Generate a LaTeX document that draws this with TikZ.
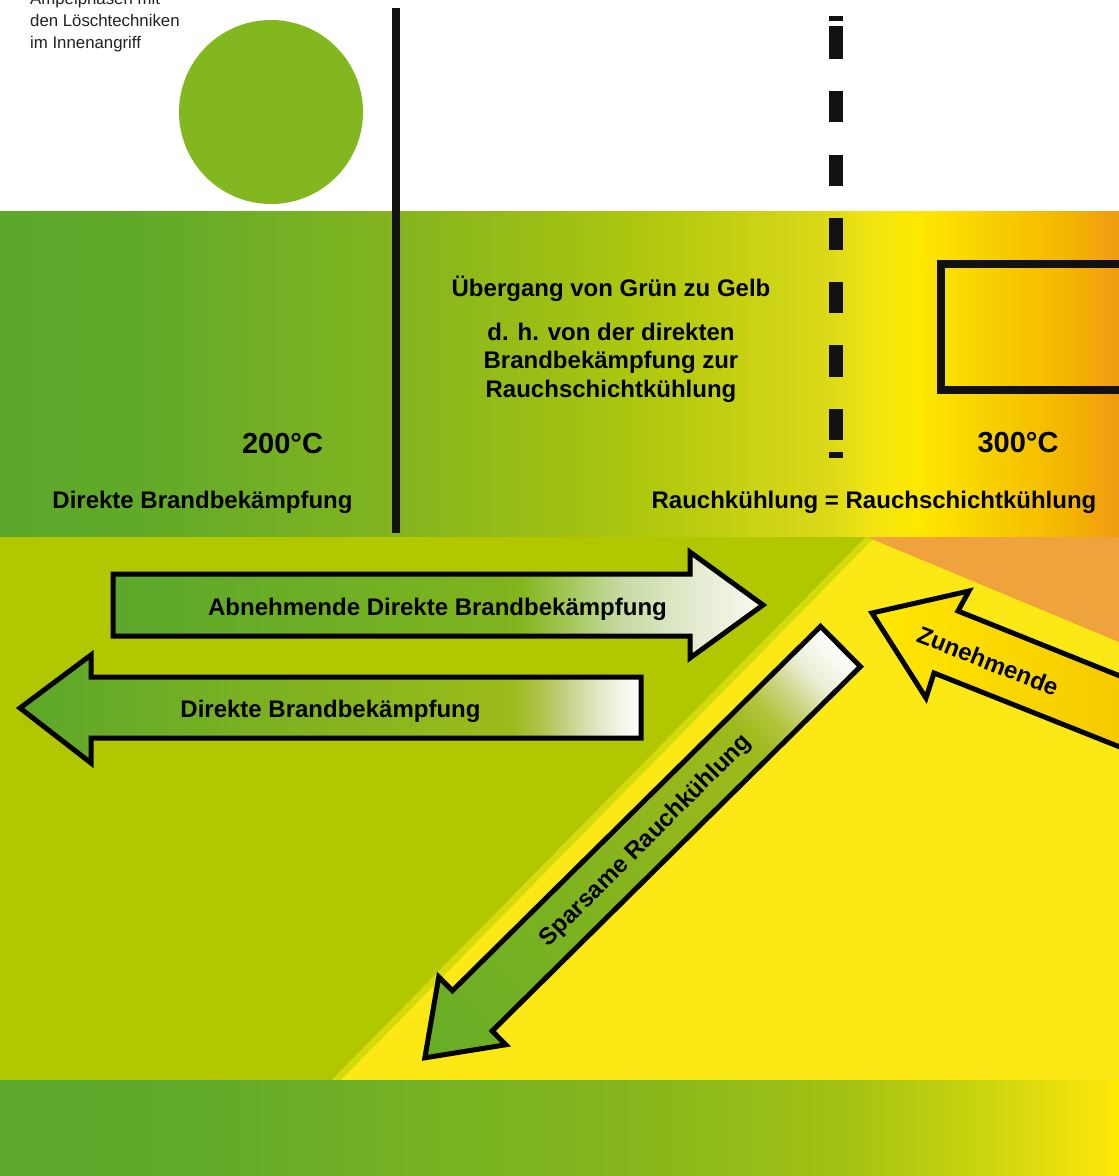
\documentclass[tikz,border=0pt]{standalone}
\usepackage{fontspec}
\setmainfont{Liberation Sans}
\usetikzlibrary{calc}

\definecolor{lowgreen}{HTML}{B1C800}
\definecolor{lowyellow}{HTML}{FCE814}
\definecolor{orangetri}{HTML}{F0A23C}
\definecolor{circgreen}{HTML}{82B71F}
\definecolor{inkblack}{HTML}{111111}
\definecolor{midstrip}{HTML}{D4DB0C}
\definecolor{greytext}{HTML}{222222}
\definecolor{zunA}{HTML}{FFE800}
\definecolor{zunB}{HTML}{F6C800}

% top band
\definecolor{tbA}{HTML}{5BA82C}\definecolor{tbB}{HTML}{62AA29}
\definecolor{tbC}{HTML}{84B51F}\definecolor{tbD}{HTML}{9CBF15}
\definecolor{tbE}{HTML}{B0C80E}\definecolor{tbF}{HTML}{CBD314}
\definecolor{tbG}{HTML}{DCD918}\definecolor{tbH}{HTML}{F2E510}
\definecolor{tbI}{HTML}{FDE800}\definecolor{tbJ}{HTML}{F8D000}
\definecolor{tbK}{HTML}{F4B800}\definecolor{tbL}{HTML}{F09A10}
\pgfdeclarehorizontalshading{topband}{100bp}{color(0bp)=(tbA); color(25bp)=(tbA);
 color(31.7bp)=(tbB); color(42.9bp)=(tbC); color(49.6bp)=(tbD); color(54bp)=(tbE);
 color(59bp)=(tbF); color(62.1bp)=(tbG); color(63.9bp)=(tbH); color(66.1bp)=(tbI);
 color(69.2bp)=(tbJ); color(72.4bp)=(tbK); color(75bp)=(tbL); color(100bp)=(tbL)}

% bottom band
\definecolor{bbA}{HTML}{5DA82D}\definecolor{bbB}{HTML}{62AA2A}
\definecolor{bbC}{HTML}{78B222}\definecolor{bbD}{HTML}{87B71C}
\definecolor{bbE}{HTML}{A4C214}\definecolor{bbF}{HTML}{C4D20E}
\definecolor{bbG}{HTML}{E0DC10}\definecolor{bbH}{HTML}{F8E608}
\definecolor{bbI}{HTML}{FDE800}
\pgfdeclarehorizontalshading{bottomband}{100bp}{color(0bp)=(bbA); color(25bp)=(bbA);
 color(33.9bp)=(bbB); color(45.1bp)=(bbC); color(54bp)=(bbD); color(63bp)=(bbE);
 color(67.9bp)=(bbF); color(71.3bp)=(bbG); color(74.2bp)=(bbH); color(75bp)=(bbI);
 color(100bp)=(bbI)}

% arrow one
\definecolor{aoA}{HTML}{5CA82B}\definecolor{aoB}{HTML}{6CAE25}
\definecolor{aoC}{HTML}{82B51E}\definecolor{aoD}{HTML}{9FC44E}
\definecolor{aoE}{HTML}{C6DAA2}\definecolor{aoF}{HTML}{E2EACD}
\definecolor{aoG}{HTML}{F8FAF0}
\pgfdeclarehorizontalshading{arrowone}{100bp}{color(0bp)=(aoA); color(25bp)=(aoA);
 color(40.9bp)=(aoB); color(56.3bp)=(aoC); color(59.4bp)=(aoD); color(64bp)=(aoE);
 color(69.4bp)=(aoF); color(75bp)=(aoG); color(100bp)=(aoG)}

% arrow two
\definecolor{atA}{HTML}{5CA82B}\definecolor{atB}{HTML}{84B41E}
\definecolor{atC}{HTML}{9CBB1A}\definecolor{atD}{HTML}{AEC24A}
\definecolor{atE}{HTML}{C8D48E}\definecolor{atF}{HTML}{E4E9C8}
\definecolor{atG}{HTML}{F7F8EE}\definecolor{atH}{HTML}{FFFFFF}
\pgfdeclarehorizontalshading{arrowtwo}{100bp}{color(0bp)=(atA); color(25bp)=(atA);
 color(50bp)=(atB); color(64.5bp)=(atC); color(66.9bp)=(atD); color(69.3bp)=(atE);
 color(71.7bp)=(atF); color(73.7bp)=(atG); color(75bp)=(atH); color(100bp)=(atH)}

% diagonal arrow (local axis: tail at 0 -> tip at 585)
\definecolor{adA}{HTML}{FFFFFF}\definecolor{adB}{HTML}{ECEFD8}
\definecolor{adC}{HTML}{CBD483}\definecolor{adD}{HTML}{B2C43C}
\definecolor{adE}{HTML}{9EBA1C}\definecolor{adF}{HTML}{90B61C}
\definecolor{adG}{HTML}{7AB221}\definecolor{adH}{HTML}{66AD26}
\pgfdeclarehorizontalshading{arrowdiag}{100bp}{color(0bp)=(adA); color(25bp)=(adA);
 color(28.4bp)=(adB); color(31bp)=(adC); color(33.5bp)=(adD); color(36.1bp)=(adE);
 color(46.4bp)=(adF); color(59.2bp)=(adG); color(75bp)=(adH); color(100bp)=(adH)}

\tikzset{
  lbl/.style={font=\fontsize{24}{28}\selectfont\bfseries, text=black, inner sep=0pt, anchor=base},
  biglbl/.style={font=\fontsize{29}{34}\selectfont\bfseries, text=black, inner sep=0pt, anchor=base},
  smalllbl/.style={font=\fontsize{16.8}{21.6}\selectfont, text=greytext, inner sep=0pt, anchor=base west},
  arrowshape/.style={draw=black, line width=5pt, line join=miter, miter limit=10},
}

\begin{document}
\begin{tikzpicture}[x=1pt,y=-1pt]
\useasboundingbox (0,0) rectangle (1119,1176);
\begin{scope}
\clip (0,0) rectangle (1119,1176);
% backgrounds
\fill[white] (0,0) rectangle (1119,211);
\shade[shading=topband] (0,211) rectangle (1119,537);
\fill[lowgreen] (0,537) rectangle (1119,1080);
\fill[lowyellow] (866,537) -- (1119,537) -- (1119,1080) -- (332,1080) -- cycle;
\fill[midstrip] (866,537) -- (875,537) -- (341,1080) -- (332,1080) -- cycle;
\fill[orangetri] (867,537) -- (1119,537) -- (1119,642) -- cycle;
\shade[shading=bottomband] (0,1080) rectangle (1119,1176);

% circle
\fill[circgreen] (271,112) circle[radius=92pt];

% top-left caption
\node[smalllbl] (capA) at (30,4) {Ampelphasen mit};
\node[smalllbl] (capB) at (30,26.7) {den Löschtechniken};
\node[smalllbl] (capC) at (30,48.3) {im Innenangriff};

% solid vertical line
\coordinate (vtop) at (396,8);
\coordinate (vbot) at (396,533);
\draw[line width=8pt, inkblack] (vtop) -- (vbot);

% dashed vertical line
\foreach \a/\b in {15.5/20.7, 25.8/59.2, 91.3/122.2, 155/186, 218/249.7, 281.7/313.4, 345/376.7, 408.7/440, 452/458}
  \fill[inkblack] (829,\a) rectangle (843,\b);

% right rectangle
\draw[line width=8pt, inkblack] (941,264) rectangle (1140,389.5);

% top band texts
\node[lbl] (ueb) at (611,296.7) {Übergang von Grün zu Gelb};
\node[lbl] (dh1) at (611,340) {d. h. von der direkten};
\node[lbl] (dh2) at (611,368) {Brandbekämpfung zur};
\node[lbl] (dh3) at (611,397) {Rauchschichtkühlung};
\node[biglbl] (t200) at (282.5,453) {200°C};
\node[biglbl] (t300) at (1018,452) {300°C};
\node[lbl] (dirB) at (202.5,508) {Direkte Brandbekämpfung};
\node[lbl] (rauchK) at (874,508) {Rauchkühlung = Rauchschichtkühlung};

% arrow 1 (right)
\shade[shading=arrowone, arrowshape] (113,574) -- (690,574) -- (690,552) -- (763,605) -- (690,658) -- (690,636) -- (113,636) -- cycle;
\node[lbl] (abn) at (437.5,615) {Abnehmende Direkte Brandbekämpfung};

% arrow 2 (left)
\shade[shading=arrowtwo, arrowshape] (641,677) -- (91,677) -- (91,655) -- (20,708) -- (91,763) -- (91,738) -- (641,738) -- cycle;
\node[lbl] (dirA) at (330.5,717) {Direkte Brandbekämpfung};

% diagonal arrow (drawn in its own rotated frame)
\begin{scope}[transform canvas={shift={(840.5,646.5)}, rotate=224.7}]
\shade[shading=arrowdiag, arrowshape] (0,-28.3) -- (518,-28.3) -- (518,-47.7) -- (584.8,0) -- (518,47.7) -- (518,28.3) -- (0,28.3) -- cycle;
\end{scope}
\node[lbl, anchor=center, rotate=45] (spar) at (646,841) {Sparsame Rauchkühlung};

% Zunehmende arrow
\shade[left color=zunA, right color=zunB, arrowshape] (872,613) -- (969,591) -- (958,611) -- (1135,682) -- (1135,753) -- (934,673) -- (926,698) -- cycle;
\node[lbl, anchor=center, rotate=-21.5] (zun) at (988,661) {Zunehmende};
\end{scope}
\end{tikzpicture}
\end{document}
